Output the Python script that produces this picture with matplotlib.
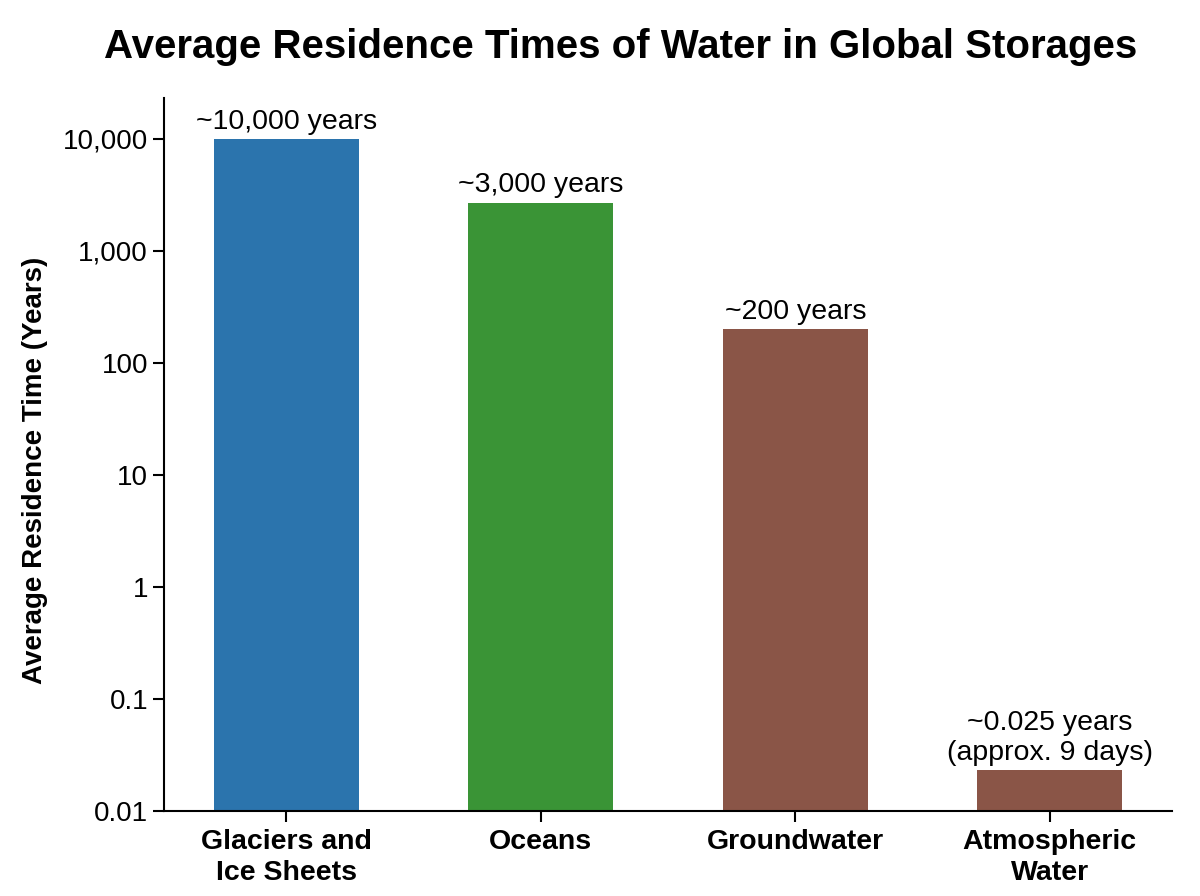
import matplotlib
matplotlib.use("Agg")
import matplotlib.pyplot as plt
import matplotlib.ticker as mticker

categories = ["Glaciers and\nIce Sheets", "Oceans", "Groundwater", "Atmospheric\nWater"]
residence_years = [10000, 2700, 200, 0.023]
bar_labels = ["~10,000 years", "~3,000 years", "~200 years", "~0.025 years\n(approx. 9 days)"]
bar_colors = ["#2b74ad", "#3a9436", "#8a5547", "#8a5547"]
ytick_values = [0.01, 0.1, 1, 10, 100, 1000, 10000]
ytick_labels = ["0.01", "0.1", "1", "10", "100", "1,000", "10,000"]

plt.rcParams["font.family"] = ["Liberation Sans Narrow", "Liberation Sans", "DejaVu Sans"]

fig = plt.figure(figsize=(12, 8.96), dpi=100)
ax = fig.add_axes([0.1367, 0.0949, 0.84, 0.7957])

x = range(len(categories))
bars = ax.bar(x, residence_years, width=0.57, color=bar_colors, zorder=2)
ax.set_yscale("log")
ax.set_ylim(0.01, 23200)
ax.set_xlim(-0.48, 3.48)

ax.set_yticks(ytick_values)
ax.set_yticklabels(ytick_labels)
ax.yaxis.set_minor_locator(mticker.NullLocator())
ax.set_xticks(list(x))
ax.set_xticklabels(categories, fontweight="bold", linespacing=1.25)

ax.tick_params(axis="y", labelsize=20, length=8, width=1.5)
ax.tick_params(axis="x", labelsize=20.5, length=8, width=1.5, pad=5)

for s in ["top", "right"]:
    ax.spines[s].set_visible(False)
for s in ["left", "bottom"]:
    ax.spines[s].set_linewidth(1.5)

for rect, lab in zip(bars, bar_labels):
    ax.annotate(lab, (rect.get_x() + rect.get_width() / 2, rect.get_height()),
                xytext=(0, 3), textcoords="offset points",
                ha="center", va="bottom", fontsize=20.5, linespacing=1.2)

ax.set_ylabel("Average Residence Time (Years)", fontsize=20, fontweight="bold")
ax.yaxis.set_label_coords(-0.115, 0.478)

fig.text(0.517, 0.947, "Average Residence Times of Water in Global Storages",
         ha="center", va="center", fontsize=29, fontweight="bold")

fig.savefig("out.png", dpi=100)
